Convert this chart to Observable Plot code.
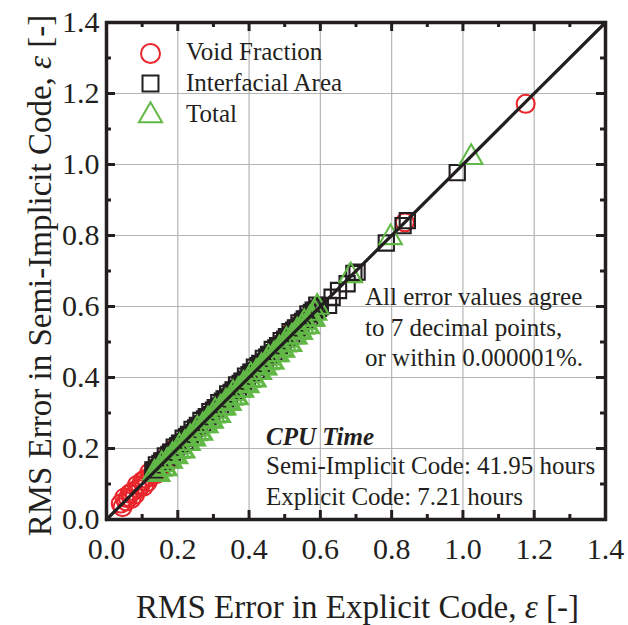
<!DOCTYPE html>
<html>
<head>
<meta charset="utf-8">
<script src="https://cdn.jsdelivr.net/npm/d3@7"></script>
<script src="https://cdn.jsdelivr.net/npm/@observablehq/plot@0.6"></script>
<style>
html,body{margin:0;padding:0;background:#fff;}
#chart{width:628px;height:625px;}
</style>
</head>
<body>
<div id="chart"></div>
<script>
// ---- data ----
const majorTicks = [0.0, 0.2, 0.4, 0.6, 0.8, 1.0, 1.2, 1.4];
const innerMajor = [0.2, 0.4, 0.6, 0.8, 1.0, 1.2];
const minorTicks = [0.1, 0.3, 0.5, 0.7, 0.9, 1.1, 1.3];
const diag = [0, 1.4];

const seriesNames = ["Void Fraction", "Interfacial Area", "Total"];

// Void Fraction (red circles)
const vfX = [0.040,0.045,0.050,0.055,0.060,0.065,0.070,0.075,0.080,0.085,0.090,0.095,0.100,0.105,0.110,0.115,0.120,0.125,0.130,0.135,0.140,0.145,0.150,0.155,0.160,0.165,0.170,0.175,0.180,0.185,0.190,0.52,0.55,0.837,1.176];
const vfY = [0.045,0.035,0.062,0.051,0.060,0.073,0.058,0.080,0.070,0.097,0.086,0.095,0.108,0.093,0.115,0.105,0.132,0.121,0.130,0.143,0.128,0.150,0.140,0.167,0.156,0.165,0.178,0.163,0.185,0.195,0.200,0.53,0.56,0.837,1.171];

// Interfacial Area (black squares)
const iaX = [0.130,0.135,0.140,0.145,0.150,0.155,0.160,0.165,0.170,0.175,0.180,0.185,0.190,0.195,0.200,0.205,0.210,0.215,0.220,0.225,0.230,0.235,0.240,0.245,0.250,0.255,0.260,0.265,0.270,0.275,0.280,0.285,0.290,0.295,0.300,0.305,0.310,0.315,0.320,0.325,0.330,0.335,0.340,0.345,0.350,0.355,0.360,0.365,0.370,0.375,0.380,0.385,0.390,0.395,0.400,0.405,0.410,0.415,0.420,0.425,0.430,0.435,0.440,0.445,0.450,0.455,0.460,0.465,0.470,0.475,0.480,0.485,0.490,0.495,0.500,0.505,0.510,0.515,0.520,0.525,0.530,0.535,0.540,0.545,0.550,0.555,0.560,0.565,0.570,0.575,0.580,0.585,0.590,0.595,0.600,0.623,0.633,0.651,0.675,0.694,0.703,0.785,0.832,0.844,0.984];
const iaY = [0.140,0.139,0.154,0.145,0.158,0.165,0.164,0.179,0.170,0.183,0.190,0.189,0.204,0.195,0.208,0.215,0.214,0.229,0.220,0.233,0.240,0.239,0.254,0.245,0.258,0.265,0.264,0.279,0.270,0.283,0.290,0.289,0.304,0.295,0.308,0.315,0.314,0.329,0.320,0.333,0.340,0.339,0.354,0.345,0.358,0.365,0.364,0.379,0.370,0.383,0.390,0.389,0.404,0.395,0.408,0.415,0.414,0.429,0.420,0.433,0.440,0.439,0.454,0.445,0.458,0.465,0.464,0.479,0.470,0.483,0.490,0.489,0.504,0.495,0.508,0.515,0.514,0.529,0.520,0.533,0.540,0.539,0.554,0.545,0.558,0.565,0.564,0.579,0.570,0.583,0.590,0.589,0.604,0.595,0.600,0.603,0.626,0.645,0.664,0.693,0.697,0.779,0.828,0.842,0.977];

// Total (green triangles)
const tX = [0.135,0.140,0.145,0.150,0.155,0.160,0.165,0.170,0.175,0.180,0.185,0.190,0.195,0.200,0.205,0.210,0.215,0.220,0.225,0.230,0.235,0.240,0.245,0.250,0.255,0.260,0.265,0.270,0.275,0.280,0.285,0.290,0.295,0.300,0.305,0.310,0.315,0.320,0.325,0.330,0.335,0.340,0.345,0.350,0.355,0.360,0.365,0.370,0.375,0.380,0.385,0.390,0.395,0.400,0.405,0.410,0.415,0.420,0.425,0.430,0.435,0.440,0.445,0.450,0.455,0.460,0.465,0.470,0.475,0.480,0.485,0.490,0.495,0.500,0.505,0.510,0.515,0.520,0.525,0.530,0.535,0.540,0.545,0.550,0.555,0.560,0.565,0.570,0.575,0.580,0.585,0.591,0.685,0.797,1.023];
const tY = [0.131,0.128,0.127,0.142,0.155,0.145,0.143,0.164,0.165,0.164,0.181,0.178,0.177,0.192,0.205,0.195,0.193,0.214,0.215,0.214,0.231,0.228,0.227,0.242,0.255,0.245,0.243,0.264,0.265,0.264,0.281,0.278,0.277,0.292,0.305,0.295,0.293,0.314,0.315,0.314,0.331,0.328,0.327,0.342,0.355,0.345,0.343,0.364,0.365,0.364,0.381,0.378,0.377,0.392,0.405,0.395,0.393,0.414,0.415,0.414,0.431,0.428,0.427,0.442,0.455,0.445,0.443,0.464,0.465,0.464,0.481,0.478,0.477,0.492,0.505,0.495,0.493,0.514,0.515,0.514,0.531,0.528,0.527,0.542,0.555,0.545,0.543,0.564,0.565,0.564,0.581,0.598,0.687,0.794,1.020];

const noteLines = ["All error values agree", "to 7 decimal points,", "or within 0.000001%."];
const cpuTitle = "CPU Time";
const cpuLines = ["Semi-Implicit Code: 41.95 hours", "Explicit Code: 7.21 hours"];

// ---- layout ----
const W = 628, H = 625;
const mL = 106, mR = 23, mT = 22, mB = 106;
const innerW = W - mL - mR, innerH = H - mT - mB;
const RED = "#e8262b", BLK = "#231f20", GRN = "#62b846";
const FONT = "'Liberation Serif', 'Times New Roman', serif";

const pts = (xs, ys) => xs.map((x, i) => ({x, y: ys[i]}));
const vf = pts(vfX, vfY), ia = pts(iaX, iaY), tot = pts(tX, tY);

const majLen = 9, minLen = 5;
const SW = 2.1;

const chart = Plot.plot({
  width: W, height: H,
  marginLeft: mL, marginRight: mR, marginTop: mT, marginBottom: mB,
  style: {fontFamily: FONT, background: "#fff", color: BLK},
  x: {domain: [0, 1.4], ticks: majorTicks, tickFormat: d3.format(".1f")},
  y: {domain: [0, 1.4], ticks: majorTicks, tickFormat: d3.format(".1f")},
  marks: [
    Plot.gridX(innerMajor, {stroke: "#b5b5b5", strokeOpacity: 1, strokeWidth: 1.2}),
    Plot.gridY(innerMajor, {stroke: "#b5b5b5", strokeOpacity: 1, strokeWidth: 1.2}),
    // inward ticks on all four sides
    Plot.tickX(innerMajor, {x: d => d, insetTop: innerH - majLen, stroke: BLK, strokeWidth: 3}),
    Plot.tickX(innerMajor, {x: d => d, insetBottom: innerH - majLen, stroke: BLK, strokeWidth: 3}),
    Plot.tickX(minorTicks, {x: d => d, insetTop: innerH - minLen, stroke: BLK, strokeWidth: 3}),
    Plot.tickX(minorTicks, {x: d => d, insetBottom: innerH - minLen, stroke: BLK, strokeWidth: 3}),
    Plot.tickY(innerMajor, {y: d => d, insetRight: innerW - majLen, stroke: BLK, strokeWidth: 3}),
    Plot.tickY(innerMajor, {y: d => d, insetLeft: innerW - majLen, stroke: BLK, strokeWidth: 3}),
    Plot.tickY(minorTicks, {y: d => d, insetRight: innerW - minLen, stroke: BLK, strokeWidth: 3}),
    Plot.tickY(minorTicks, {y: d => d, insetLeft: innerW - minLen, stroke: BLK, strokeWidth: 3}),
    Plot.axisX({ticks: majorTicks, tickSize: 0, tickPadding: 18, fontSize: 30, label: null, tickFormat: d3.format(".1f")}),
    Plot.axisY({ticks: majorTicks, tickSize: 0, tickPadding: 7, fontSize: 30, label: null, tickFormat: d3.format(".1f")}),
    // data
    Plot.dot(vf, {x: "x", y: "y", symbol: "circle", r: 9, stroke: RED, strokeWidth: SW, fill: "none"}),
    Plot.dot(ia, {x: "x", y: "y", symbol: "square", r: 8.6, stroke: BLK, strokeWidth: SW, fill: "none"}),
    Plot.dot(tot, {x: "x", y: "y", symbol: "triangle", r: 8.4, stroke: GRN, strokeWidth: SW, fill: "none"}),
    Plot.line(diag, {x: d => d, y: d => d, stroke: BLK, strokeWidth: 3.2}),
    Plot.frame({stroke: BLK, strokeWidth: 3.5}),
    // legend symbols
    Plot.dot([seriesNames[0]], {frameAnchor: "top-left", dx: 44, dy: 31, symbol: "circle", r: 9.5, stroke: RED, strokeWidth: 2, fill: "none"}),
    Plot.dot([seriesNames[1]], {frameAnchor: "top-left", dx: 44, dy: 61, symbol: "square", r: 9, stroke: BLK, strokeWidth: 2, fill: "none"}),
    Plot.dot([seriesNames[2]], {frameAnchor: "top-left", dx: 44, dy: 93, symbol: "triangle", r: 8.6, stroke: GRN, strokeWidth: 2, fill: "none"})
  ]
});

document.getElementById("chart").appendChild(chart);

const svg = d3.select(chart.tagName.toLowerCase() === "svg" ? chart : chart.querySelector("svg"));

function addText(x, baseline, str, opts = {}) {
  const t = svg.append("text")
    .attr("x", x).attr("y", baseline)
    .attr("font-family", FONT)
    .attr("font-size", opts.size || 25)
    .attr("fill", BLK)
    .attr("text-anchor", opts.anchor || "start");
  if (opts.weight) t.attr("font-weight", opts.weight);
  if (opts.style) t.attr("font-style", opts.style);
  t.text(str);
  return t;
}

// legend labels
seriesNames.forEach((s, i) => addText(186, [60, 91, 122][i], s));
// note
noteLines.forEach((s, i) => addText(365, [305, 335.5, 366][i], s));
// CPU time
addText(266, 445, cpuTitle, {weight: "bold", style: "italic"});
cpuLines.forEach((s, i) => addText(266, [474, 505][i], s));

// axis titles with italic epsilon
function title(x, y, pre, transform) {
  const t = svg.append("text")
    .attr("x", x).attr("y", y)
    .attr("font-family", FONT).attr("font-size", 33).attr("fill", BLK)
    .attr("text-anchor", "middle");
  if (transform) t.attr("transform", transform);
  t.append("tspan").text(pre);
  t.append("tspan").attr("font-style", "italic").text("\u03B5");
  t.append("tspan").text(" [-]");
}
title(mL + innerW / 2 + 2, 618, "RMS Error in Explicit Code, ");
title(0, 0, "RMS Error in Semi-Implicit Code, ", `translate(51,${mT + innerH / 2 + 5}) rotate(-90)`);
</script>
</body>
</html>
